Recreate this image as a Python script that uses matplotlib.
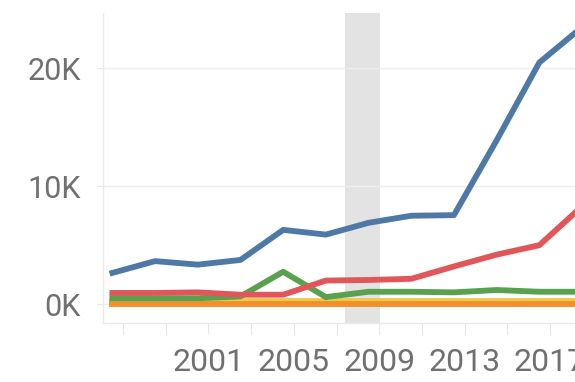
import numpy as np
import matplotlib
matplotlib.use("Agg")
import matplotlib.pyplot as plt
from matplotlib.ticker import FuncFormatter

# data points sit at mid-year of even years
years = [1996, 1998, 2000, 2002, 2004, 2006, 2008, 2010, 2012, 2014, 2016, 2018]
blue = [2650, 3650, 3350, 3750, 6300, 5900, 6900, 7500, 7550, 13900, 20500, 23500]
red = [950, 950, 1000, 800, 800, 2000, 2050, 2150, 3200, 4200, 5000, 8300]
green = [500, 500, 500, 650, 2750, 600, 1050, 1050, 1000, 1200, 1050, 1050]
yellow = [300, 300, 300, 300, 300, 300, 300, 300, 300, 300, 300, 300]
orange = [0, 0, 0, 0, 0, 0, 0, 0, 0, 0, 0, 0]

tick_years = [1997, 1999, 2001, 2003, 2005, 2007, 2009, 2011, 2013, 2015, 2017]
label_years = [2001, 2005, 2009, 2013, 2017]
recession = (2007.4, 2009.05)

plt.rcParams['font.family'] = ['Roboto', 'DejaVu Sans']

fig = plt.figure(figsize=(5.75, 3.82), dpi=100)
ax = fig.add_axes([103/575, 59/382, 1 - 103/575, (323 - 13)/382])

x = np.array(years) + 0.5
ax.axvspan(recession[0], recession[1], color='#e3e3e3', zorder=0, lw=0)

lw = 4.2
ax.plot(x, yellow, color='#edc948', lw=lw, zorder=2)
ax.plot(x, orange, color='#f28e2b', lw=lw, zorder=3)
ax.plot(x, green, color='#59a14f', lw=lw, zorder=4)
ax.plot(x, red, color='#e15759', lw=lw, zorder=5)
ax.plot(x, blue, color='#4e79a7', lw=lw, zorder=6)

ax.set_xlim(1996.06, 2018.17)
ax.set_ylim(-1600, 24700)

ax.set_yticks([0, 10000, 20000])
ax.yaxis.set_major_formatter(FuncFormatter(lambda v, p: '%dK' % (v / 1000)))
ax.grid(axis='y', color='#eeeeee', lw=1, zorder=1)

ax.set_xticks(tick_years)
ax.set_xticklabels([str(t) if t in label_years else '' for t in tick_years])

for s in ['top', 'right']:
    ax.spines[s].set_visible(False)
for s in ['left', 'bottom']:
    ax.spines[s].set_color('#eaeaea')
    ax.spines[s].set_linewidth(1)

ax.tick_params(axis='x', length=8, color='#e6e6e6', labelsize=23, labelcolor='#707070', pad=10)
ax.tick_params(axis='y', length=4, color='#e6e6e6', labelsize=22, labelcolor='#707070', pad=12)

fig.savefig('out.png', dpi=100)
